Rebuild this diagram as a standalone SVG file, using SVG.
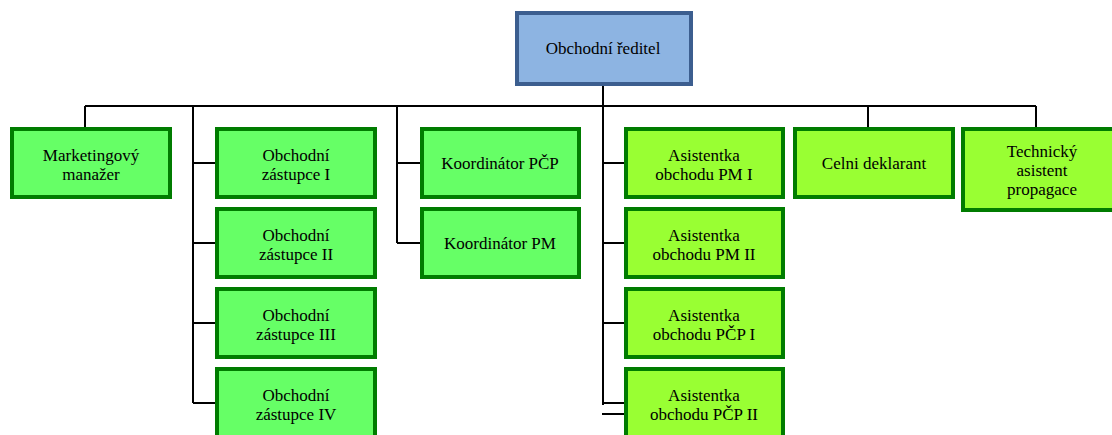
<svg xmlns="http://www.w3.org/2000/svg" width="1112" height="435" viewBox="0 0 1112 435">
  <style>
    .top { fill: #8DB4E2; stroke: #3C5E8F; stroke-width: 4; }
    .g1 { fill: #66FF66; stroke: #007C00; stroke-width: 4; }
    .g2 { fill: #99FF33; stroke: #007C00; stroke-width: 4; }
    .lbl { font-family: "Liberation Serif", "Times New Roman", serif; font-size: 17px; fill: #000; text-anchor: middle; }
    .conn { fill: none; stroke: #000; stroke-width: 2; }
  </style>
  <rect width="1112" height="435" fill="#fff"/>

  <!-- connectors -->
  <g id="connectors" class="conn">
    <path d="M603 85 V405"/>
    <path d="M85 106 H1036"/>
    <path d="M85 106 V128"/>
    <path d="M868 106 V128"/>
    <path d="M1036 106 V128"/>
    <path d="M193 106 V403 M193 163 H216 M193 243 H216 M193 323 H216 M193 403 H216"/>
    <path d="M397 106 V243 M397 163 H421 M397 243 H421"/>
    <path d="M603 163 H625 M603 243 H625 M603 323 H625 M603 403 H625 M602 414 H625"/>
  </g>

  <g id="obchodni-reditel">
    <rect class="top" x="517" y="13" width="174" height="71"/>
    <text class="lbl" x="603" y="54">Obchodní ředitel</text>
  </g>

  <g id="marketingovy-manazer">
    <rect class="g1" x="12" y="129" width="158" height="68"/>
    <text class="lbl" x="91" y="161">Marketingový</text>
    <text class="lbl" x="91" y="180">manažer</text>
  </g>

  <g id="obchodni-zastupce-1">
    <rect class="g1" x="217" y="129" width="158" height="68"/>
    <text class="lbl" x="296" y="161">Obchodní</text>
    <text class="lbl" x="296" y="180">zástupce I</text>
  </g>
  <g id="obchodni-zastupce-2">
    <rect class="g1" x="217" y="209" width="158" height="68"/>
    <text class="lbl" x="296" y="241">Obchodní</text>
    <text class="lbl" x="296" y="260">zástupce II</text>
  </g>
  <g id="obchodni-zastupce-3">
    <rect class="g1" x="217" y="289" width="158" height="68"/>
    <text class="lbl" x="296" y="321">Obchodní</text>
    <text class="lbl" x="296" y="340">zástupce III</text>
  </g>
  <g id="obchodni-zastupce-4">
    <rect class="g1" x="217" y="369" width="158" height="68"/>
    <text class="lbl" x="296" y="401">Obchodní</text>
    <text class="lbl" x="296" y="420">zástupce IV</text>
  </g>

  <g id="koordinator-pcp">
    <rect class="g1" x="422" y="129" width="157" height="68"/>
    <text class="lbl" x="500" y="169">Koordinátor PČP</text>
  </g>
  <g id="koordinator-pm">
    <rect class="g1" x="422" y="209" width="157" height="68"/>
    <text class="lbl" x="500" y="249">Koordinátor PM</text>
  </g>

  <g id="asistentka-pm-1">
    <rect class="g2" x="626" y="129" width="157" height="68"/>
    <text class="lbl" x="704" y="161">Asistentka</text>
    <text class="lbl" x="704" y="180">obchodu PM I</text>
  </g>
  <g id="asistentka-pm-2">
    <rect class="g2" x="626" y="209" width="157" height="68"/>
    <text class="lbl" x="704" y="241">Asistentka</text>
    <text class="lbl" x="704" y="260">obchodu PM II</text>
  </g>
  <g id="asistentka-pcp-1">
    <rect class="g2" x="626" y="289" width="157" height="68"/>
    <text class="lbl" x="704" y="321">Asistentka</text>
    <text class="lbl" x="704" y="340">obchodu PČP I</text>
  </g>
  <g id="asistentka-pcp-2">
    <rect class="g2" x="626" y="369" width="157" height="68"/>
    <text class="lbl" x="704" y="401">Asistentka</text>
    <text class="lbl" x="704" y="420">obchodu PČP II</text>
  </g>

  <g id="celni-deklarant">
    <rect class="g2" x="795" y="129" width="158" height="68"/>
    <text class="lbl" x="874" y="169">Celni deklarant</text>
  </g>

  <g id="technicky-asistent-propagace">
    <rect class="g2" x="963" y="129" width="152" height="81"/>
    <text class="lbl" x="1042" y="157">Technický</text>
    <text class="lbl" x="1042" y="176">asistent</text>
    <text class="lbl" x="1042" y="195">propagace</text>
  </g>
</svg>
